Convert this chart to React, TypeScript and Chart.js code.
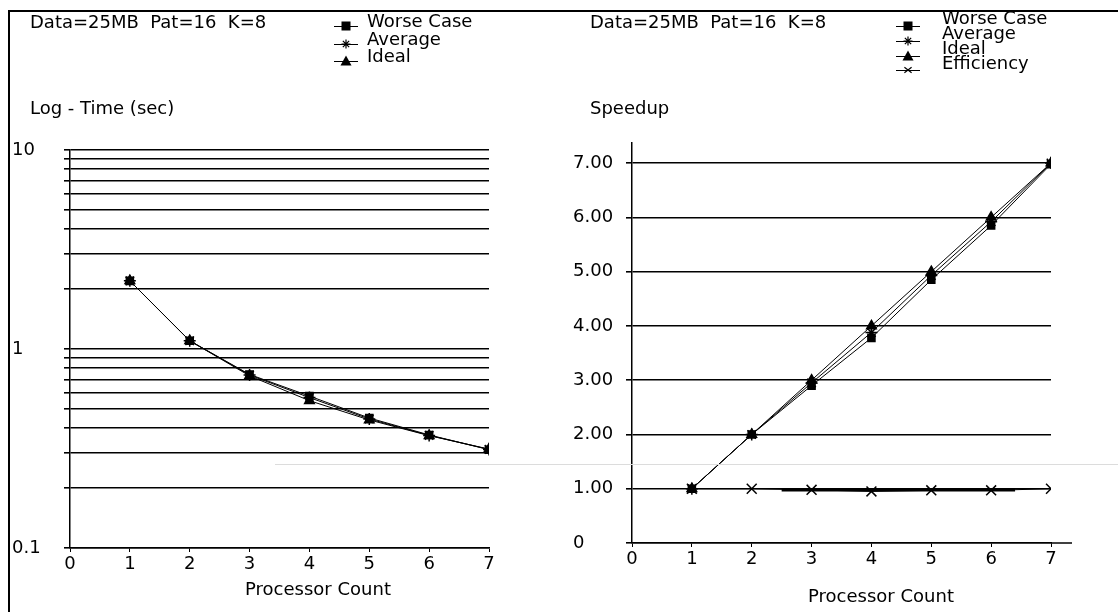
import React, { useEffect, useRef } from 'react';
import { Chart, registerables } from 'chart.js';

Chart.register(...registerables);

const processors = [1, 2, 3, 4, 5, 6, 7];
const xTickValues = [0, 1, 2, 3, 4, 5, 6, 7];

// Left chart: log time (sec)
const timeWorst = [2.2, 1.1, 0.745, 0.58, 0.45, 0.37, 0.312];
const timeAverage = [2.2, 1.1, 0.74, 0.57, 0.445, 0.368, 0.313];
const timeIdeal = [2.2, 1.1, 0.733, 0.55, 0.44, 0.367, 0.314];
const logTickValues = [0.1, 0.2, 0.3, 0.4, 0.5, 0.6, 0.7, 0.8, 0.9, 1, 2, 3, 4, 5, 6, 7, 8, 9, 10];
const logTickLabels = ['0.1', '1', '10'];

// Right chart: speedup
const speedWorst = [1, 2, 2.9, 3.78, 4.85, 5.85, 6.98];
const speedAverage = [1, 2, 2.95, 3.88, 4.93, 5.92, 7.0];
const speedIdeal = [1, 2, 3, 4, 5, 6, 7];
const efficiency = [1.0, 1.0, 0.98, 0.95, 0.97, 0.97, 1.0];
const effBandX = [2.5, 6.4];
const effBandY = [0.975, 0.975];
const speedTickValues = [0, 1, 2, 3, 4, 5, 6, 7];

const headerText = 'Data=25MB  Pat=16  K=8';
const FONT = '"DejaVu Sans", "Liberation Sans", sans-serif';
const FS = 18;

const pts = (xs: number[], ys: number[]) => xs.map((x, i) => ({ x, y: ys[i] }));

function drawMarker(ctx: CanvasRenderingContext2D, style: string, x: number, y: number, r: number) {
  ctx.save();
  ctx.fillStyle = '#000';
  ctx.strokeStyle = '#000';
  ctx.lineWidth = 1.2;
  ctx.beginPath();
  if (style === 'rect') {
    ctx.fillRect(x - r, y - r, 2 * r, 2 * r);
  } else if (style === 'triangle') {
    ctx.moveTo(x, y - r - 1);
    ctx.lineTo(x + r + 1, y + r);
    ctx.lineTo(x - r - 1, y + r);
    ctx.closePath();
    ctx.fill();
  } else if (style === 'star') {
    ctx.moveTo(x - r, y); ctx.lineTo(x + r, y);
    ctx.moveTo(x, y - r); ctx.lineTo(x, y + r);
    ctx.moveTo(x - r * 0.7, y - r * 0.7); ctx.lineTo(x + r * 0.7, y + r * 0.7);
    ctx.moveTo(x - r * 0.7, y + r * 0.7); ctx.lineTo(x + r * 0.7, y - r * 0.7);
    ctx.stroke();
  } else if (style === 'crossRot') {
    ctx.moveTo(x - r * 0.8, y - r * 0.6); ctx.lineTo(x + r * 0.8, y + r * 0.6);
    ctx.moveTo(x - r * 0.8, y + r * 0.6); ctx.lineTo(x + r * 0.8, y - r * 0.6);
    ctx.stroke();
  }
  ctx.restore();
}

type LegendItem = { label: string; style: string; ty: number; sy: number };
type Deco = {
  texts: { t: string; x: number; y: number; align?: CanvasTextAlign }[];
  legend: LegendItem[];
  legendSymX: number;
  legendTextX: number;
  extendX?: number;
};

const makeDecoPlugin = (deco: Deco) => ({
  id: 'deco',
  afterDraw(chart: any) {
    const ctx: CanvasRenderingContext2D = chart.ctx;
    ctx.save();
    ctx.fillStyle = '#000';
    ctx.font = `${FS}px ${FONT}`;
    ctx.textBaseline = 'middle';
    deco.texts.forEach((d) => {
      ctx.textAlign = d.align || 'left';
      ctx.fillText(d.t, d.x, d.y);
    });
    deco.legend.forEach((it) => {
      ctx.textAlign = 'left';
      ctx.fillText(it.label, deco.legendTextX, it.ty);
      ctx.strokeStyle = '#000';
      ctx.lineWidth = 1;
      ctx.beginPath();
      ctx.moveTo(deco.legendSymX - 12, it.sy + 0.5);
      ctx.lineTo(deco.legendSymX + 12, it.sy + 0.5);
      ctx.stroke();
      drawMarker(ctx, it.style, deco.legendSymX, it.sy, 4.5);
    });
    if (deco.extendX) {
      const a = chart.chartArea;
      ctx.strokeStyle = '#000';
      ctx.lineWidth = 1.5;
      ctx.beginPath();
      ctx.moveTo(a.right, a.bottom);
      ctx.lineTo(a.right + deco.extendX, a.bottom);
      ctx.stroke();
    }
    ctx.restore();
  },
});

const lineDs = (label: string, data: any[], style: string, r: number) => ({
  label,
  data,
  borderColor: '#000',
  backgroundColor: '#000',
  borderWidth: 1,
  pointStyle: style,
  pointRadius: r,
  pointBorderWidth: 1.5,
  pointBorderColor: '#000',
  pointBackgroundColor: '#000',
  tension: 0,
});

function LeftChart() {
  const ref = useRef<HTMLCanvasElement>(null);
  useEffect(() => {
    const deco: Deco = {
      texts: [
        { t: headerText, x: 30, y: 23 },
        { t: 'Log - Time (sec)', x: 30, y: 109 },
        { t: 'Processor Count', x: 318, y: 590, align: 'center' },
      ],
      legend: [
        { label: 'Worse Case', style: 'rect', ty: 22, sy: 26 },
        { label: 'Average', style: 'star', ty: 40, sy: 44 },
        { label: 'Ideal', style: 'triangle', ty: 57, sy: 61 },
      ],
      legendSymX: 346,
      legendTextX: 367,
    };
    const chart = new Chart(ref.current!, {
      type: 'line',
      data: {
        datasets: [
          lineDs('Worse Case', pts(processors, timeWorst), 'rect', 5),
          lineDs('Average', pts(processors, timeAverage), 'star', 6),
          lineDs('Ideal', pts(processors, timeIdeal), 'triangle', 5.5),
        ],
      },
      options: {
        animation: false,
        responsive: false,
        layout: { padding: { left: 12, top: 150, right: 71, bottom: 0 } },
        plugins: { legend: { display: false }, tooltip: { enabled: false } },
        scales: {
          x: {
            type: 'linear',
            min: 0,
            max: 7,
            afterFit: (s: any) => { s.height = 64; },
            afterBuildTicks: (s: any) => { s.ticks = xTickValues.map((v) => ({ value: v })); },
            grid: { drawOnChartArea: false, drawTicks: true, tickLength: 4, color: '#000' },
            border: { color: '#000', width: 1.5 },
            ticks: { color: '#000', font: { family: FONT, size: FS }, padding: 2, maxRotation: 0 },
          },
          y: {
            type: 'logarithmic',
            min: 0.1,
            max: 10,
            afterFit: (s: any) => { s.width = 58; },
            afterBuildTicks: (s: any) => { s.ticks = logTickValues.map((v) => ({ value: v })); },
            grid: { color: '#000', lineWidth: 1.6, tickLength: 6 },
            border: { color: '#000', width: 1.5 },
            ticks: {
              color: '#000',
              crossAlign: 'far',
              autoSkip: false,
              font: { family: FONT, size: FS },
              callback: (v: any) => {
                const s = String(Number(v));
                return logTickLabels.includes(s) ? s : '';
              },
            },
          },
        },
      } as any,
      plugins: [makeDecoPlugin(deco)],
    });
    return () => chart.destroy();
  }, []);
  return <canvas ref={ref} width={560} height={612} style={{ position: 'absolute', left: 0, top: 0 }} />;
}

function RightChart() {
  const ref = useRef<HTMLCanvasElement>(null);
  useEffect(() => {
    const deco: Deco = {
      texts: [
        { t: headerText, x: 30, y: 23 },
        { t: 'Speedup', x: 30, y: 109 },
        { t: 'Processor Count', x: 321, y: 597, align: 'center' },
      ],
      legend: [
        { label: 'Worse Case', style: 'rect', ty: 19, sy: 26 },
        { label: 'Average', style: 'star', ty: 34, sy: 41 },
        { label: 'Ideal', style: 'triangle', ty: 49, sy: 56 },
        { label: 'Efficiency', style: 'crossRot', ty: 64, sy: 70 },
      ],
      legendSymX: 348,
      legendTextX: 382,
      extendX: 21,
    };
    const chart = new Chart(ref.current!, {
      type: 'line',
      data: {
        datasets: [
          lineDs('Worse Case', pts(processors, speedWorst), 'rect', 5),
          lineDs('Average', pts(processors, speedAverage), 'star', 6),
          lineDs('Ideal', pts(processors, speedIdeal), 'triangle', 5.5),
          lineDs('Efficiency', pts(processors, efficiency), 'crossRot', 7),
          { ...lineDs('Efficiency band', pts(effBandX, effBandY), 'circle', 0), borderWidth: 3 },
        ],
      },
      options: {
        animation: false,
        responsive: false,
        layout: { padding: { left: 13, top: 143, right: 67, bottom: 0 } },
        plugins: { legend: { display: false }, tooltip: { enabled: false } },
        scales: {
          x: {
            type: 'linear',
            min: 0,
            max: 7,
            afterFit: (s: any) => { s.height = 69; },
            afterBuildTicks: (s: any) => { s.ticks = xTickValues.map((v) => ({ value: v })); },
            grid: { drawOnChartArea: false, drawTicks: true, tickLength: 4, color: '#000' },
            border: { color: '#000', width: 1.5 },
            ticks: { color: '#000', font: { family: FONT, size: FS }, padding: 2, maxRotation: 0 },
          },
          y: {
            type: 'linear',
            min: 0,
            max: 7.37,
            afterFit: (s: any) => { s.width = 59; },
            afterBuildTicks: (s: any) => { s.ticks = speedTickValues.map((v) => ({ value: v })); },
            grid: { color: '#000', lineWidth: 1.6, tickLength: 6 },
            border: { color: '#000', width: 1.5 },
            ticks: {
              color: '#000',
              crossAlign: 'far',
              autoSkip: false,
              font: { family: FONT, size: FS },
              callback: (v: any) => (Number(v) === 0 ? '0' : Number(v).toFixed(2)),
            },
          },
        },
      } as any,
      plugins: [makeDecoPlugin(deco)],
    });
    return () => chart.destroy();
  }, []);
  return <canvas ref={ref} width={558} height={612} style={{ position: 'absolute', left: 560, top: 0 }} />;
}

export default function App() {
  return (
    <div style={{ position: 'fixed', left: 0, top: 0, width: 1118, height: 612, background: '#fff', overflow: 'hidden' }}>
      <LeftChart />
      <RightChart />
      <div style={{ position: 'absolute', left: 8, top: 10, width: 1110, height: 602, borderTop: '2px solid #000', borderLeft: '2px solid #000', boxSizing: 'border-box', pointerEvents: 'none' }} />
      <div style={{ position: 'absolute', left: 275, top: 464, width: 843, height: 1, background: '#dcdcdc', pointerEvents: 'none' }} />
    </div>
  );
}
